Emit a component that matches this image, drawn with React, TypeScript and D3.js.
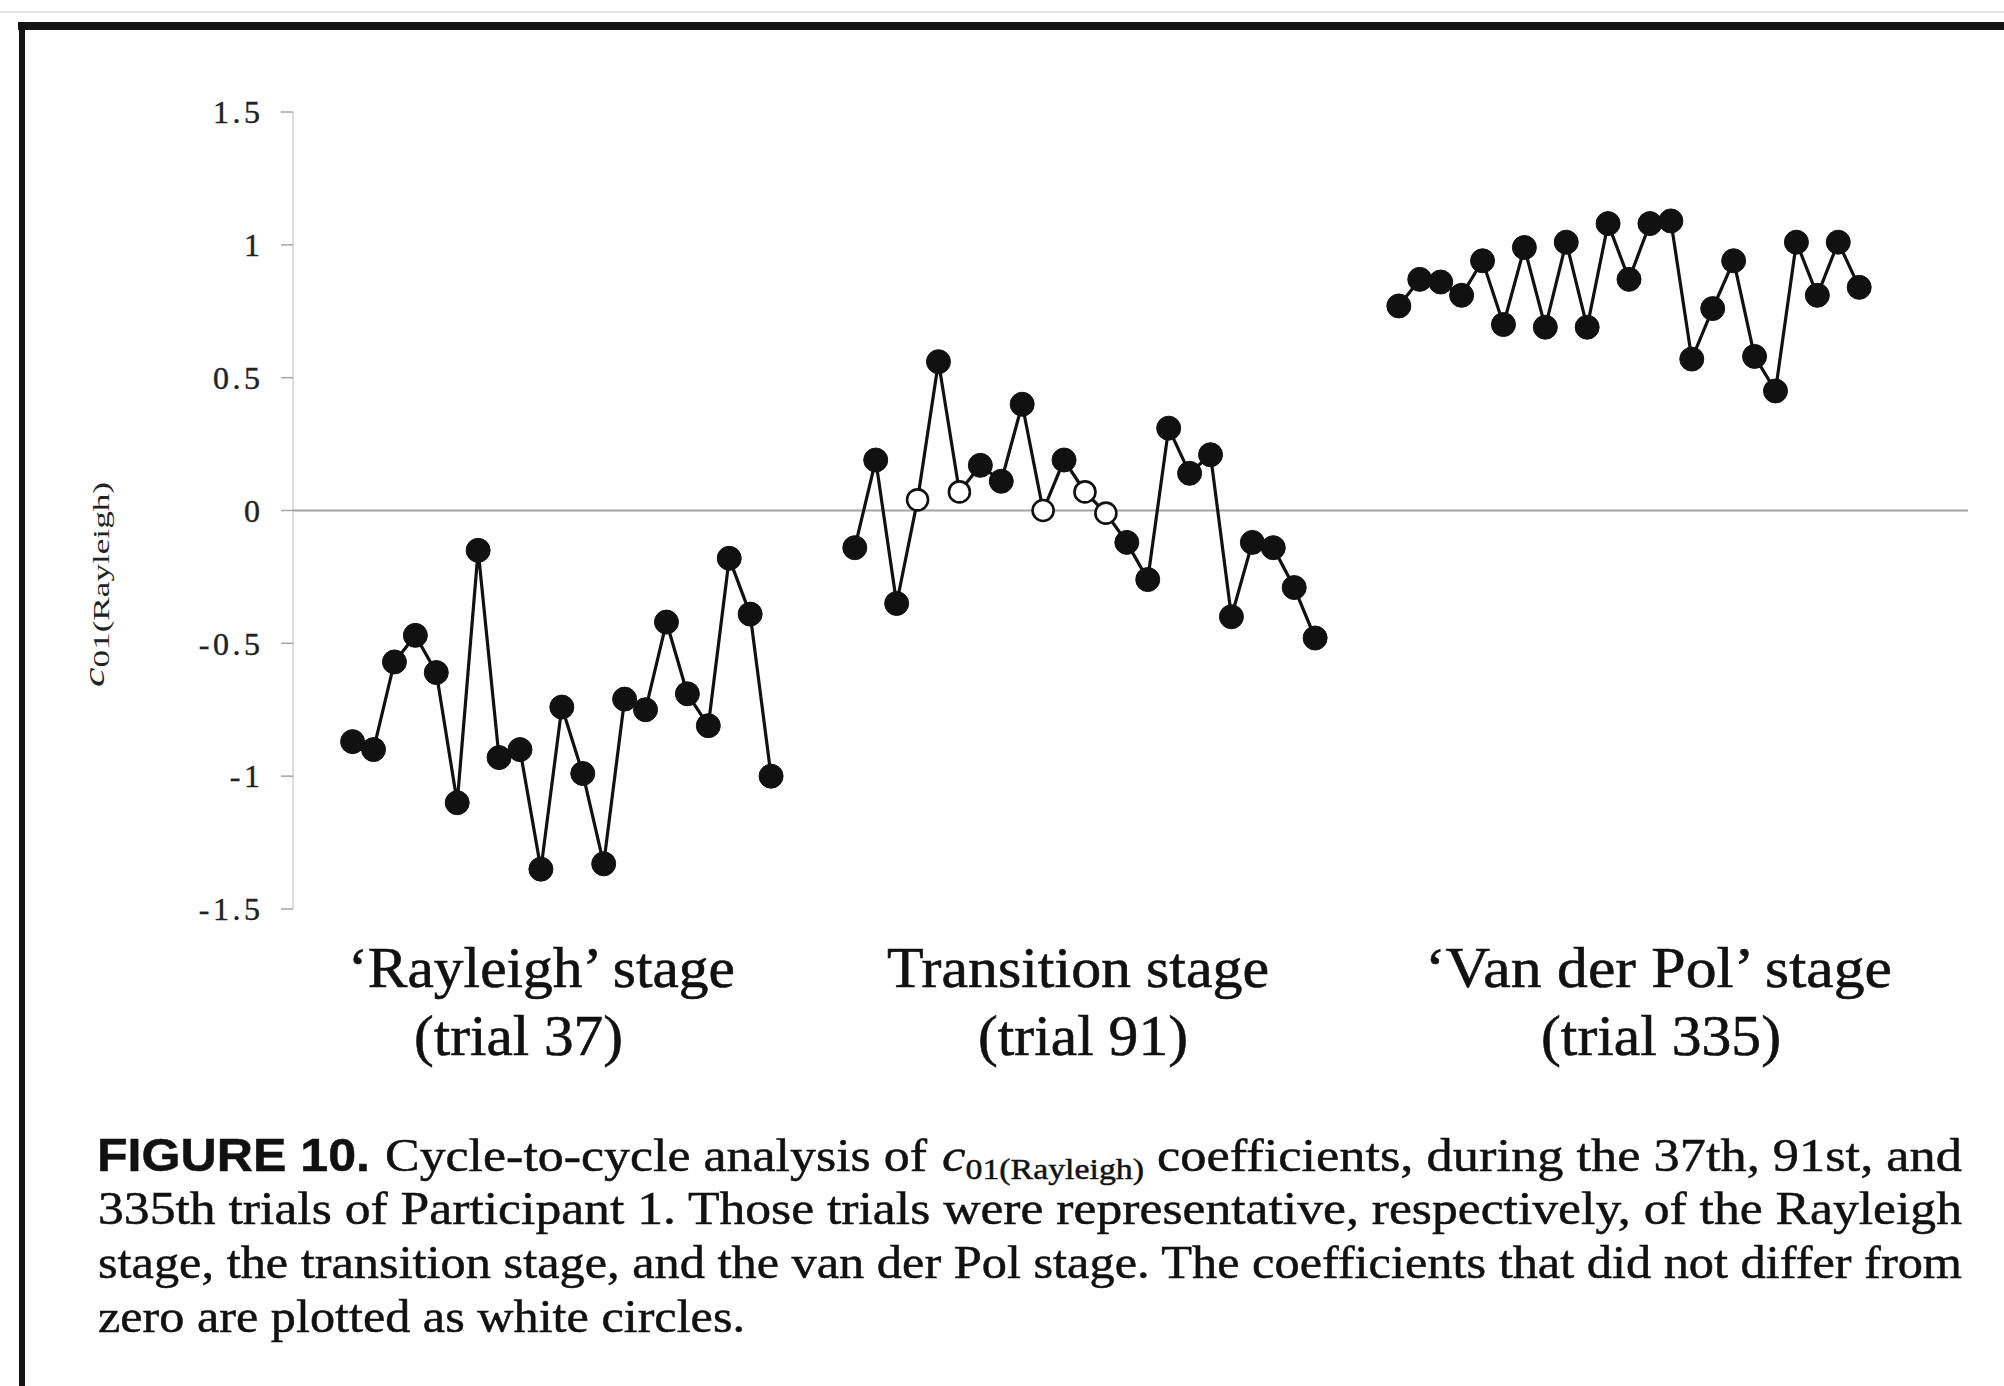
import React from 'react';
import * as d3 from 'd3';

// values, one per cycle
const rayleighValues = [
  -0.87, -0.90, -0.57, -0.47, -0.61, -1.10, -0.15, -0.93, -0.90, -1.35, -0.74,
  -0.99, -1.33, -0.71, -0.75, -0.42, -0.69, -0.81, -0.18, -0.39, -1.00,
];
const transitionValues = [
  -0.14, 0.19, -0.35, 0.04, 0.56, 0.07, 0.17, 0.11, 0.40, 0.0, 0.19, 0.07,
  -0.01, -0.12, -0.26, 0.31, 0.14, 0.21, -0.40, -0.12, -0.14, -0.29, -0.48,
];
// cycles whose coefficient did not differ from zero (white circles)
const transitionZeroCycles = [3, 5, 9, 11, 12];
const vanDerPolValues = [
  0.77, 0.87, 0.86, 0.81, 0.94, 0.70, 0.99, 0.69, 1.01, 0.69, 1.08, 0.87,
  1.08, 1.09, 0.57, 0.76, 0.94, 0.58, 0.45, 1.01, 0.81, 1.01, 0.84,
];
const stageNames = ['\u2018Rayleigh\u2019 stage', 'Transition stage', '\u2018Van der Pol\u2019 stage'];
const stageTrials = ['(trial 37)', '(trial 91)', '(trial 335)'];
const yTicks = [-1.5, -1, -0.5, 0, 0.5, 1, 1.5];
const yTickLabels = ['-1.5', '-1', '-0.5', '0', '0.5', '1', '1.5'];

const captionLines = [
  '335th trials of Participant 1. Those trials were representative, respectively, of the Rayleigh',
  'stage, the transition stage, and the van der Pol stage. The coefficients that did not differ from',
  'zero are plotted as white circles.',
];

const W = 2004;
const H = 1386;
const GAP = 3; // empty cycle slots between stages

const x = d3.scaleLinear().domain([-2.8, 77.2]).range([294, 1968]);
const y = d3.scaleLinear().domain([-1.5, 1.5]).range([909, 112]);

const stageSeries = [rayleighValues, transitionValues, vanDerPolValues];
const openSets = [[], transitionZeroCycles, []];

let offset = 0;
const stages = stageSeries.map((vals, k) => {
  const start = offset;
  offset += vals.length + GAP;
  return {
    points: vals.map((v, i) => ({ i: start + i, v, open: openSets[k].includes(i) })),
  };
});

// label boxes (left edge, width) for the two lines under each stage
const labelBoxes = [
  { x1: 348, w1: 387, x2: 414, w2: 209 },
  { x1: 887, w1: 382, x2: 978, w2: 210 },
  { x1: 1425, w1: 467, x2: 1541, w2: 240 },
];

const serif = '"Liberation Serif", "Times New Roman", serif';
const sans = '"Liberation Sans", Arial, sans-serif';

export default function App() {
  const line = d3
    .line<{ i: number; v: number }>()
    .x(d => x(d.i))
    .y(d => y(d.v));

  return (
    <svg
      width={W}
      height={H}
      style={{ position: 'absolute', left: 0, top: 0, background: '#fff' }}
    >
      <rect x={0} y={0} width={W} height={H} fill="#fff" />
      {/* frame */}
      <line x1={0} y1={12} x2={W} y2={12} stroke="#e2e2e2" strokeWidth={2} />
      <line x1={18} y1={26} x2={W} y2={26} stroke="#141414" strokeWidth={8} />
      <line x1={22} y1={22} x2={22} y2={H} stroke="#141414" strokeWidth={6} />

      {/* axis */}
      <line x1={293} y1={y(1.5)} x2={293} y2={y(-1.5)} stroke="#d2d2d2" strokeWidth={1.5} />
      <line x1={293} y1={y(0)} x2={x(77.2)} y2={y(0)} stroke="#a4a4a4" strokeWidth={2} />
      {yTicks.map((t, k) => (
        <g key={t}>
          <line x1={281} y1={y(t)} x2={293} y2={y(t)} stroke="#a4a4a4" strokeWidth={1.5} />
          <text
            x={263.5}
            y={y(t)}
            dy="0.35em"
            textAnchor="end"
            fontFamily={serif}
            fontSize={32}
            letterSpacing={3.5}
            fill="#222"
            stroke="#222"
            strokeWidth={0.4}
          >
            {yTickLabels[k]}
          </text>
        </g>
      ))}
      <text
        transform="translate(104,687) rotate(-90)"
        fontFamily={serif}
        fill="#222"
        textLength={205}
        lengthAdjust="spacingAndGlyphs"
      >
        <tspan fontStyle="italic" fontSize={30}>c</tspan>
        <tspan fontSize={24} dy={5}>01(Rayleigh)</tspan>
      </text>

      {/* series */}
      {stages.map((s, k) => (
        <g key={k}>
          <path d={line(s.points) || ''} fill="none" stroke="#111" strokeWidth={3.2} />
          {s.points.map(p => (
            <circle
              key={p.i}
              cx={x(p.i)}
              cy={y(p.v)}
              r={p.open ? 10.5 : 12}
              fill={p.open ? '#fff' : '#111'}
              stroke="#111"
              strokeWidth={p.open ? 2.6 : 1}
            />
          ))}
        </g>
      ))}

      {/* stage labels */}
      {stageNames.map((name, k) => (
        <g key={name} fontFamily={serif} fontSize={57} fill="#111" stroke="#111" strokeWidth={0.6}>
          <text x={labelBoxes[k].x1} y={987} textLength={labelBoxes[k].w1} lengthAdjust="spacingAndGlyphs">
            {name}
          </text>
          <text x={labelBoxes[k].x2} y={1055} textLength={labelBoxes[k].w2} lengthAdjust="spacingAndGlyphs">
            {stageTrials[k]}
          </text>
        </g>
      ))}

      {/* caption */}
      <g fontFamily={serif} fontSize={47} fill="#111" stroke="#111" strokeWidth={0.5}>
        <text x={97} y={1171} fontFamily={sans} fontWeight="bold" textLength={273} lengthAdjust="spacingAndGlyphs">
          FIGURE 10.
        </text>
        <text x={385} y={1171} textLength={542} lengthAdjust="spacingAndGlyphs">
          Cycle-to-cycle analysis of
        </text>
        <text x={942} y={1171} textLength={202} lengthAdjust="spacingAndGlyphs">
          <tspan fontStyle="italic">c</tspan>
          <tspan fontSize={30} dy={8}>01(Rayleigh)</tspan>
        </text>
        <text x={1157} y={1171} textLength={805} lengthAdjust="spacingAndGlyphs">
          coefficients, during the 37th, 91st, and
        </text>
        {captionLines.map((t, k) => (
          <text
            key={k}
            x={98}
            y={1224 + k * 54}
            textLength={k < 2 ? 1864 : 647}
            lengthAdjust="spacingAndGlyphs"
          >
            {t}
          </text>
        ))}
      </g>
    </svg>
  );
}
